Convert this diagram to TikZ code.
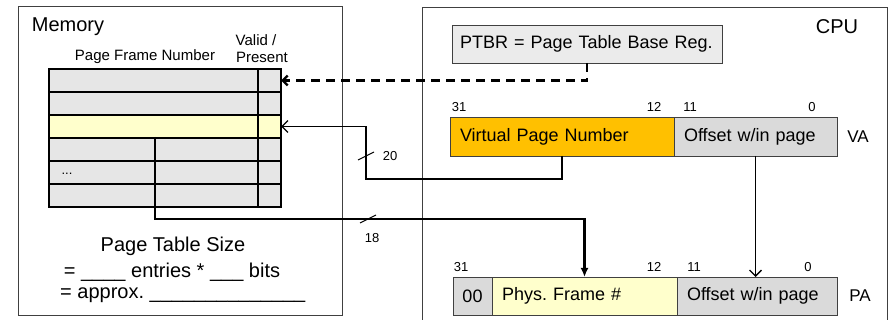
\documentclass[tikz,border=0pt]{standalone}
\usepackage{fontspec}
\setmainfont{Liberation Sans}
\usetikzlibrary{positioning,arrows.meta,calc}
\frenchspacing

\definecolor{vpnorange}{HTML}{FFC000}
\definecolor{pfnyellow}{HTML}{FFFFCC}
\definecolor{rowgray}{HTML}{E6E6E6}
\definecolor{offgray}{HTML}{DADADA}
\definecolor{regggray}{HTML}{EBEBEB}

\begin{document}
\begin{tikzpicture}[x=1pt,y=-1pt,
  frame/.style={draw=black!75,line width=0.8pt},
  fld/.style={draw=black!75,line width=0.8pt,outer sep=0pt,minimum height=39pt,
    inner xsep=10pt,inner ysep=0pt,align=left,font=\fontsize{18}{20}\selectfont},
  ptrow/.style={draw,line width=2.2pt,fill=rowgray,minimum width=232pt,
    minimum height=23pt,inner sep=0pt,outer sep=0pt},
  bitno/.style={font=\fontsize{13}{14}\selectfont,inner sep=0pt},
  biglbl/.style={font=\fontsize{20}{22}\selectfont,inner sep=0pt},
  smalllbl/.style={font=\fontsize{15}{16}\selectfont,inner sep=0pt},
  wire/.style={line width=1.3pt,-{Straight Barb[length=6pt,width=12pt]}},
]

  \useasboundingbox (0,0) rectangle (891,320);

  \draw[frame] (18,6) rectangle (342,315);
  \draw[frame] (422,320) -- (422,7) -- (887,7) -- (887,320);

  \node[biglbl] (mem) at (68,27) {Memory};
  \node[biglbl] (cpu) at (837,27) {CPU};

  \node[smalllbl] (pfnhead) at (145,57) {Page Frame Number};
  \node[smalllbl] (validhead) at (256,40) {Valid /};
  \node[smalllbl] (presenthead) at (262,57) {Present};

  \foreach \i in {1,...,6}
    \node[ptrow] (row\i) at (165,{80.5+23*(\i-1)}) {};
  \node[ptrow,fill=pfnyellow] (row3) at (165,126.5) {};
  \draw[line width=2.2pt] (row1.north -| 258,0) -- (row6.south -| 258,0);
  \node[bitno] (dots) at (67,174) {...};

  \node[biglbl] (size) at (173,246) {Page Table Size};
  \node[biglbl] (entries) at (172,272) {= \_\_\_\_ entries * \_\_\_ bits};
  \node[biglbl,anchor=west] (approx) at (60,295) {= approx. \_\_\_\_\_\_\_\_\_\_\_\_\_\_};

  \node[fld,fill=regggray,text width=254pt,inner xsep=8pt,minimum height=38pt] (ptbr) at (587,44) {\mbox{PTBR = Page Table Base Reg.}};

  \node[fld,fill=vpnorange,text width=204pt] (vpn) at (562,136.5) {Virtual Page Number};
  \node[fld,fill=offgray,text width=143pt] (vaoff) [right=0pt of vpn] {Offset w/in page};
  \node[fld,draw=none,font=\fontsize{17}{19}\selectfont] (va) at (858,136.5) {VA};

  \node[fld,fill=offgray,minimum width=39pt,inner xsep=0pt,minimum height=38pt] (zero) at (472.5,296) {00};
  \node[fld,fill=pfnyellow,text width=165pt,minimum height=38pt] (pfn) [right=0pt of zero] {Phys. Frame \#};
  \node[fld,fill=offgray,text width=140pt,minimum height=38pt] (paoff) [right=0pt of pfn] {Offset w/in page};
  \node[fld,draw=none,font=\fontsize{17}{19}\selectfont] (pa) at (860,296) {PA};

  \node[bitno] (va31) at (459,107) {31};
  \node[bitno] (va12) at (654,107) {12};
  \node[bitno] (va11) at (690,107) {11};
  \node[bitno] (va0) at (812,107) {0};
  \node[bitno] (pa31) at (461,267) {31};
  \node[bitno] (pa12) at (654,267) {12};
  \node[bitno] (pa11) at (694,267) {11};
  \node[bitno] (pa0) at (808,267) {0};

  \coordinate (split) at (155,137);
  \coordinate (bus18) at (368,219);
  \coordinate (bend20) at (366,179);
  \coordinate (bus20) at (366,156);

  \draw[line width=2.4pt,dash pattern=on 9pt off 6pt,-{Straight Barb[length=5pt,width=10pt]}] (ptbr.south) |- (row1.east);
  \draw[wire] (vpn.south) |- (bend20) |- (row3.east);
  \draw[line width=2.2pt,-{Latex[length=9pt,width=8pt]}] (split) |- (bus18) -| (pfn.north);
  \draw[wire] (vaoff.south) -- (vaoff.south |- paoff.north);

  \draw[line width=1pt] (bus20) ++(-8,4) -- ++(16,-8);
  \draw[line width=1pt] (bus18) ++(-8,4) -- ++(16,-8);
  \node[bitno] (w20) at (390,156) {20};
  \node[bitno] (w18) at (372,238) {18};

\end{tikzpicture}
\end{document}
